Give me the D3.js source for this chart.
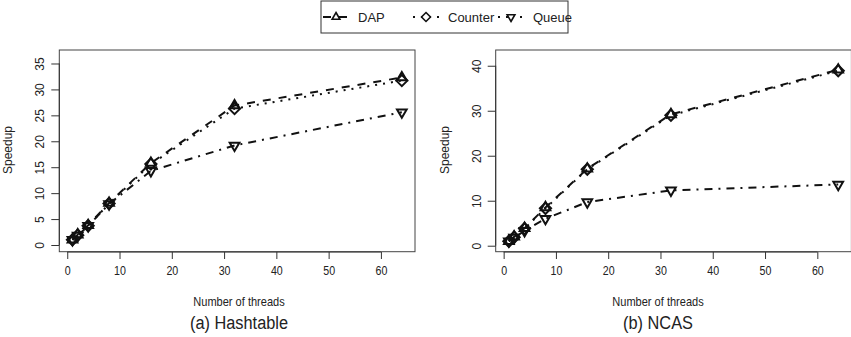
<!DOCTYPE html>
<html lang='en'>
<head>
  <title>Speedup</title>
  <script src='https://cdn.jsdelivr.net/npm/d3@7'></script>
  <style>
    body { margin: 0; background: #fff; }
    text { font-family: 'Liberation Sans', Arial, sans-serif; fill: #222; }
  </style>
</head>
<body>
  <script>
    // data
    let threads = [1, 2, 4, 8, 16, 32, 64];
    let seriesNames = ["DAP", "Counter", "Queue"];
    let hashDAP = [1, 2, 3.8, 8.1, 15.8, 26.9, 32.3];
    let hashCounter = [1, 1.9, 3.7, 8, 15.6, 26.3, 31.7];
    let hashQueue = [1, 1.8, 3.7, 7.9, 14.3, 19.2, 25.6];
    let ncasDAP = [1, 2, 3.9, 8.5, 17.1, 29.2, 39.1];
    let ncasCounter = [1, 1.9, 3.8, 8.3, 17, 29, 38.9];
    let ncasQueue = [1, 1.8, 3.3, 6, 9.7, 12.3, 13.6];
    let xTicks = [0, 10, 20, 30, 40, 50, 60];
    let hashYTicks = [0, 5, 10, 15, 20, 25, 30, 35];
    let ncasYTicks = [0, 10, 20, 30, 40];

    let width = 851, height = 337;
    let svg = d3.select("body").append("svg")
      .attr("width", width)
      .attr("height", height);

    // line type and symbol for each series (R style lty 2, 3, 4)
    let styles = {
      "DAP": { dash: "8,8", shape: "up" },
      "Counter": { dash: "2,6", shape: "diamond" },
      "Queue": { dash: "2,6,8,6", shape: "down" }
    };

    function symbolPath(shape) {
      let r = 5.6;
      if (shape == "up")
        return `M0,${-r} L${r * 0.866},${r * 0.5} L${-r * 0.866},${r * 0.5} Z`;
      if (shape == "down")
        return `M0,${r} L${r * 0.866},${-r * 0.5} L${-r * 0.866},${-r * 0.5} Z`;
      let d = 5.6;
      return `M0,${-d} L${d},0 L0,${d} L${-d},0 Z`;
    }

    function drawPanel(opt) {
      let x = d3.scaleLinear().domain([-1.52, 66.52]).range([opt.left, opt.left + 355.7]);
      let y = d3.scaleLinear().domain(opt.yDomain).range([251.7, 50]);
      let g = svg.append("g");

      // series lines
      let line = d3.line().x((d, i) => x(threads[i])).y(d => y(d));
      opt.series.forEach((vals, k) => {
        let st = styles[seriesNames[k]];
        g.append("path")
          .attr("d", line(vals))
          .attr("fill", "none")
          .attr("stroke", "#111")
          .attr("stroke-width", 2)
          .attr("stroke-dasharray", st.dash);
      });
      // markers
      opt.series.forEach((vals, k) => {
        let st = styles[seriesNames[k]];
        g.selectAll(null).data(vals).join("path")
          .attr("d", symbolPath(st.shape))
          .attr("transform", (d, i) => `translate(${x(threads[i])},${y(d)})`)
          .attr("fill", "none")
          .attr("stroke", "#111")
          .attr("stroke-width", 2);
      });

      // box
      g.append("rect")
        .attr("x", x.range()[0]).attr("y", 50)
        .attr("width", 355.7).attr("height", 201.7)
        .attr("fill", "none").attr("stroke", "#444").attr("stroke-width", 1);

      // x axis
      let xa = g.append("g").attr("transform", "translate(0,252)")
        .call(d3.axisBottom(x).tickValues(xTicks).tickSize(7).tickSizeOuter(0).tickPadding(7));
      xa.select(".domain").attr("d", `M${x(0)},0H${x(60)}`).attr("stroke", "#333");
      xa.selectAll(".tick line").attr("stroke", "#333");
      xa.selectAll("text").attr("font-size", 13).attr("fill", "#222")
        .attr("font-family", "'Liberation Sans', Arial")
        .attr("transform", "scale(0.82,1)");

      // y axis
      let ya = g.append("g").attr("transform", `translate(${x.range()[0]},0)`)
        .call(d3.axisLeft(y).tickValues(opt.yTicks).tickSize(8).tickSizeOuter(0));
      ya.select(".domain").attr("d", `M0,${y(opt.yTicks[0])}V${y(opt.yTicks[opt.yTicks.length - 1])}`)
        .attr("stroke", "#333");
      ya.selectAll(".tick line").attr("stroke", "#333");
      ya.selectAll("text")
        .attr("font-size", 12).attr("fill", "#222")
        .attr("x", null).attr("dy", null)
        .attr("text-anchor", "middle")
        .attr("transform", "translate(-15,0) rotate(-90)");

      // labels
      svg.append("text").text("Speedup")
        .attr("transform", `translate(${opt.left - 47},${150}) rotate(-90)`)
        .attr("text-anchor", "middle").attr("font-size", 12);
      svg.append("text").text("Number of threads")
        .attr("transform", `translate(${opt.center},306) scale(0.85,1)`)
        .attr("text-anchor", "middle").attr("font-size", 13);
      svg.append("text").text(opt.title)
        .attr("transform", `translate(${opt.center},329) scale(0.86,1)`)
        .attr("text-anchor", "middle").attr("font-size", 19);
    }

    drawPanel({
      left: 59.3, center: 239, yDomain: [-1.29, 37.6], yTicks: hashYTicks,
      series: [hashDAP, hashCounter, hashQueue], title: "(a) Hashtable"
    });
    drawPanel({
      left: 495.7, center: 658, yDomain: [-1.33, 43.5], yTicks: ncasYTicks,
      series: [ncasDAP, ncasCounter, ncasQueue], title: "(b) NCAS"
    });

    // legend
    let legend = svg.append("g");
    legend.append("rect")
      .attr("x", 321).attr("y", 1).attr("width", 247).attr("height", 32)
      .attr("fill", "#fff").attr("stroke", "#333");
    let legendX = [336, 426, 511];
    seriesNames.forEach((name, k) => {
      let st = styles[name];
      let cx = legendX[k];
      legend.append("line")
        .attr("x1", cx - 13).attr("x2", cx + 13).attr("y1", 17).attr("y2", 17)
        .attr("stroke", "#111").attr("stroke-width", 2)
        .attr("stroke-dasharray", st.dash);
      legend.append("path")
        .attr("d", symbolPath(st.shape))
        .attr("transform", `translate(${cx},17) scale(0.8)`)
        .attr("fill", "#fff").attr("stroke", "#111").attr("stroke-width", 2);
      legend.append("text").text(name)
        .attr("x", cx + 22).attr("y", 21.5)
        .attr("font-size", 13);
    });
  </script>
</body>
</html>
